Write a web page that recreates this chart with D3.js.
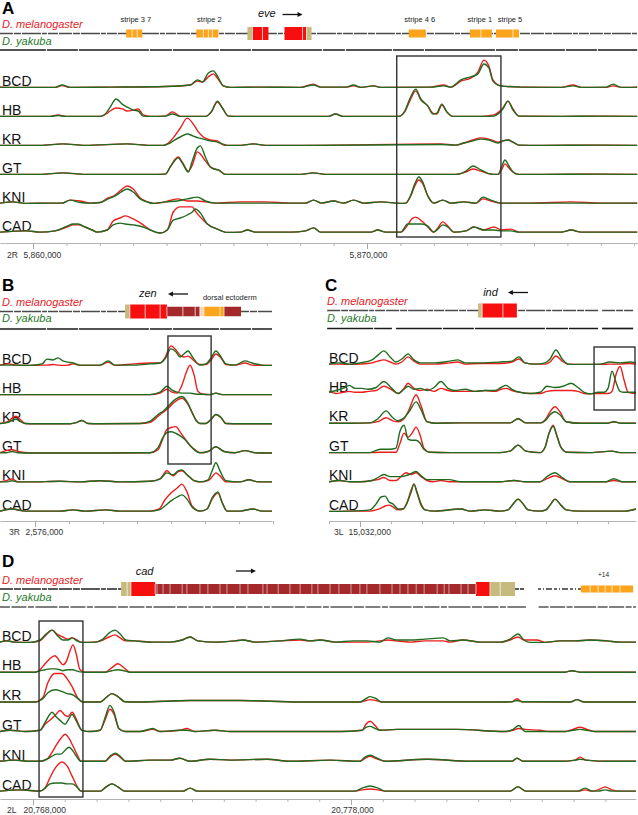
<!DOCTYPE html>
<html><head><meta charset="utf-8">
<script src="https://cdn.jsdelivr.net/npm/d3@7/dist/d3.min.js"></script>
<style>
body{margin:0;background:#fff}
svg{display:block}
text{font-family:"Liberation Sans",Arial,sans-serif}
</style>
</head><body>
<svg id="c" width="638" height="815"></svg>
<script>
// ================= DATA =================
const factors = ["BCD","HB","KR","GT","KNI","CAD"];
const speciesNames = ["D. melanogaster","D. yakuba"];

// ---------- Panel A : eve locus, chr2R (positions in kb from 5,860,000) ----------
const aChrom = "2R";
const aTickLabels = ["5,860,000","5,870,000"];
const aX = [
 [-0.99,-0.39,0.66,0.87,1.11,2.31,3.96,4.71,4.92,5.07,5.25,5.40,5.52,5.70,5.91,6.81,8.01,8.40,8.61,9.36,9.60,9.81,10.20,10.41,11.91,12.30,12.51,12.81,13.11,13.32,13.50,13.65,13.77,14.01,14.61,15.81,16.17,16.41,17.16,17.37,17.61,18.09],
 [-0.99,0.51,0.75,0.99,2.01,2.19,2.31,2.49,2.67,2.82,3.00,3.15,3.30,3.51,3.96,4.17,4.41,5.16,5.34,5.52,5.67,5.85,6.21,8.01,8.85,9.06,9.27,10.95,11.13,11.28,11.46,11.61,11.82,11.97,12.09,12.24,12.39,12.57,13.41,13.80,13.95,14.07,14.22,14.37,14.55,15.81,17.01,18.09],
 [-0.99,0.21,0.90,1.56,2.82,3.51,3.90,4.05,4.20,4.41,4.62,4.80,4.95,5.10,5.31,5.52,5.67,5.82,6.21,6.60,6.96,8.01,12.21,12.66,12.90,13.17,13.41,13.65,13.92,14.07,14.22,14.37,14.55,15.21,17.01,18.09],
 [-0.99,0.21,0.90,1.56,3.51,3.96,4.11,4.26,4.35,4.47,4.65,4.77,4.92,5.01,5.16,5.31,5.43,5.55,5.76,6.21,8.01,8.40,8.76,12.66,12.96,13.17,13.41,13.71,13.92,14.04,14.13,14.25,14.37,14.55,15.21,17.01,18.09],
 [-0.99,-0.60,-0.24,0.51,0.87,1.11,1.41,1.71,2.01,2.25,2.46,2.64,2.82,3.00,3.21,3.42,3.60,3.96,4.32,4.62,4.92,5.16,5.46,6.21,6.96,7.71,8.16,8.40,8.64,9.00,9.30,9.60,9.90,10.41,11.01,11.16,11.31,11.43,11.55,11.67,11.82,12.00,12.27,12.51,12.90,13.26,13.47,13.71,14.01,14.91,16.11,17.01,17.61,18.09],
 [-0.99,-0.18,0.21,0.66,1.02,1.20,1.35,1.56,1.77,1.92,2.22,2.40,2.61,2.76,3.00,3.30,3.51,3.81,4.02,4.20,4.41,4.62,4.77,4.86,5.01,5.22,5.52,5.82,6.21,6.42,6.66,7.71,8.16,8.40,8.61,9.51,10.11,10.32,10.56,11.01,11.22,11.34,11.46,11.64,11.82,12.00,12.12,12.27,12.42,12.60,12.96,13.20,13.50,13.80,14.04,14.31,14.55,15.21,15.81,16.11,16.41,18.09]
];
const aMel = [
 [0.3,0.2,0.2,0.8,0.2,0.3,0.5,1,2.3,2,3.7,4.7,3.3,0.7,0.2,0.3,0.2,1.3,0.3,0.3,0.7,0.2,0.7,0.2,0.3,1,0.3,2.3,3.3,5.3,9.3,7.3,2.7,0.7,0.3,0.2,1,0.2,0.2,0.7,0.2,0.3],
 [0.2,0.2,0.7,0.2,0.2,1,2,3,2.7,2,2.3,2.7,0.7,0.2,0.3,1.7,0.2,0.2,1.7,5,3,0.3,0.2,0.2,0.2,1,0.2,0.2,1.7,5.3,8.7,5.7,3.7,1.3,1,4,1.7,0.2,0.2,0.7,1.7,3,5.3,2.7,0.3,0.2,0.3,0.2],
 [0.2,0.2,0.7,0.2,0.7,0.2,0.2,1,2.7,6,9.3,7.3,4.7,3,2,1.7,0.5,0.2,0.2,0.7,0.2,0.2,0.7,0.3,1,2,2.7,2.3,1.3,1.7,2,1.3,0.3,0.2,0.3,0.2],
 [0.2,0.2,0.7,0.2,0.2,0.3,2.7,5.3,6,4.3,1.3,3.3,7.7,7,4.7,2.7,2,1.7,0.2,0.2,0.2,0.7,0.2,0.2,1,2,1.3,0.3,0.2,2,3.7,2.3,1,0.2,0.2,0.3,0.2],
 [0.3,0.7,0.2,0.3,0.3,1.3,1,0.3,0.5,2,3,4.7,6,5,2,0.7,0.2,0.7,1.7,1,1,0.7,0.3,0.7,0.7,0.3,0.3,1.3,0.3,1,0.3,1.3,0.3,0.7,0.2,0.3,2.7,6,8,6.7,2.7,0.3,1.3,0.3,0.7,0.3,1.7,1,0.3,0.3,0.7,0.3,0.3,0.3],
 [0.3,0.7,0.3,0.7,2,2.7,2.7,2,1,0.3,1,4,5,5.7,4.7,2.7,1,0,1,7,8.7,8.7,8.7,7.3,5.3,3,1.3,0.2,0.3,1,0.3,0.3,0.7,1.7,0.3,0.3,0.3,1,0.3,0.3,2.7,4.7,5.3,4,2,0.3,1.7,3.7,2.3,0.3,0.7,2,1,2,1,1.3,0.3,0.3,0.3,1,0.3,0.3]
];
const aYak = [
 [0.3,0.2,0.2,1,0.2,0.3,0.5,1,2.7,2,5,5.7,4,0.7,0.2,0.3,0.2,1,0.3,0.3,1,0.2,0.7,0.2,0.3,0.7,0.3,2.7,3.7,4.7,8,6.7,2.3,0.7,0.3,0.2,0.7,0.2,0.3,1.3,0.2,0.3],
 [0.2,0.2,0.5,0.2,0.2,1.3,3.3,6,4.3,3.3,2.3,2,0.3,0.2,0.3,1,0.2,0.2,1.7,5.3,3,0.3,0.2,0.2,0.2,1,0.2,0.2,2,6,9.3,6,3.7,1,1.3,4.3,1.7,0.2,0.2,0.3,1.3,2.7,5.3,2.3,0.3,0.2,0.3,0.2],
 [0.2,0.2,0.7,0.2,0.7,0.2,0.2,0.7,1.7,3,4,3.3,2.7,2.3,1.7,1.3,0.7,0.2,0.2,0.7,0.2,0.2,0.5,0.3,1,1.7,2.3,2,1,1.7,2,1.3,0.3,0.2,0.3,0.2],
 [0.2,0.2,0.7,0.2,0.2,0.3,2.7,5,5.7,4,1,4.7,9,9.7,6,2.7,2,1.7,0.2,0.2,0.2,0.7,0.2,0.2,1.3,3,1.7,0.3,0.2,3,5,3,1,0.2,0.2,0.3,0.2],
 [0.3,0.7,0.2,0.3,0.3,1.3,0.5,0.3,0.5,1.7,2.7,4,5,4,1.7,0.7,0.2,0.7,1,1.7,2.3,1,0.3,0.3,0.3,0.3,0.3,1.3,0.3,1,0.3,1.3,0.3,0.7,0.2,0.3,3,6.7,9,7.3,2.7,0.3,1.3,0.3,0.7,0.3,2.3,1.3,0.3,0.3,0.3,0.3,0.3,0.3],
 [0.3,0.7,0.3,0.7,2.3,3,3,2,1,0.3,1,2.7,3.3,3,2.7,2,1,0,1,4.3,5,6,7,8,6.7,3,1.3,0.2,0.3,1,0.3,0.3,0.7,1.7,0.3,0.3,0.3,1,0.3,0.3,3,3,3,3,2.3,0.3,1.3,2.7,2,0.3,0.7,2,1,1,0.7,0.7,0.3,0.3,0.3,1,0.3,0.3]
];
const aFeat = [
 [2.79,2.97,"crm"],[2.97,3.12,"crm"],[3.12,3.27,"crm"],
 [4.89,5.10,"crm"],[5.10,5.25,"crm"],[5.25,5.37,"crm"],[5.37,5.55,"crm"],
 [6.42,6.57,"utr"],[6.57,6.87,"cds"],[6.87,7.05,"cds"],
 [7.53,8.07,"cds"],[8.07,8.19,"cds"],[8.19,8.34,"utr"],
 [11.25,11.76,"crm"],
 [13.08,13.41,"crm"],[13.41,13.74,"crm"],
 [13.86,14.37,"crm"],[14.37,14.55,"crm"]
];
const aNotes = ["stripe 3 7","stripe 2","stripe 4 6","stripe 1","stripe 5"];
const aNotePos = [3.08,5.28,11.58,13.38,14.28];
const aGene = {name:"eve", pos:7.0, arrow:[7.47,8.07]};
const aBox = [10.89,14.01];

// ---------- Panel B : zen locus, chr3R (kb from 2,576,000) ----------
const bChrom = "3R";
const bTickLabels = ["2,576,000"];
const bX = [
 [-1.03,-0.79,-0.56,-0.15,0.21,0.35,0.53,0.68,0.82,0.97,1.12,1.32,1.91,2.15,2.35,2.94,3.38,3.68,3.82,4.00,4.15,4.26,4.38,4.50,4.65,4.85,5.03,5.18,5.32,5.47,5.62,5.88,6.18,6.38,6.68,6.97],
 [-1.03,1.91,3.38,3.68,3.88,4.03,4.18,4.32,4.44,4.56,4.68,4.79,4.94,5.15,5.32,5.50,6.03,6.97],
 [-1.03,-0.79,-0.68,-0.56,-0.44,-0.29,0,1.03,1.24,1.38,1.56,1.91,3.09,3.38,3.62,3.76,3.91,4.09,4.32,4.50,4.62,4.74,4.85,5.03,5.18,5.32,5.47,5.62,6.03,6.97],
 [-1.03,-0.85,-0.68,-0.50,-0.15,1.32,3.38,3.62,3.76,3.88,4.00,4.15,4.26,4.41,4.56,4.71,4.85,5.09,5.32,5.56,5.88,6.18,6.47,6.97],
 [-1.03,-0.85,-0.68,-0.50,-0.15,0.74,1.32,1.91,2.50,3.38,3.68,3.88,4.06,4.21,4.32,4.47,4.68,4.85,5.09,5.21,5.32,5.44,5.62,6.03,6.29,6.56,6.97],
 [-1.03,-0.68,-0.29,0.74,1.12,1.47,2.09,2.50,3.38,3.65,3.82,4.00,4.18,4.32,4.47,4.62,4.85,5.06,5.21,5.38,5.50,5.65,6.03,6.41,6.68,6.97]
];
const bMel = [
 [0.3,0.7,0.3,0.2,0.3,0.3,0.5,0.3,0.2,0.3,0.7,0.2,0.2,1.3,0.2,0.7,1,1,2.7,6.7,5.3,3.7,3,3.3,2,0.5,0.5,2,4,2.7,0.5,0.3,1,0.3,0.2,0.2],
 [0.2,0.2,0.2,0.7,2,1,0.7,3.3,7.3,10,6.7,1.3,0.3,0.2,0.7,0.2,0.2,0.2],
 [0.3,1,2,2.7,1.7,0.3,0.2,0.2,0.7,1.3,0.3,0.2,0.3,0.7,2.7,4,5.3,7.3,8.7,6.7,4,1.3,0.3,0.3,1.7,3.3,2.3,0.3,0.2,0.2],
 [0.3,1,1.3,0.7,0.2,0.2,0.3,1.3,5,8,8.7,9,7.3,5,2.7,1.3,0.3,0.7,2.3,0.7,0.3,1,0.3,0.2],
 [0.3,0.7,1.3,0.3,0.3,0.5,0.3,0.7,0.3,0.5,1.3,4,2.3,3.7,4,2.7,0.7,0.3,0.7,2,3.3,2.3,0.3,0.3,1,0.3,0.3],
 [0.3,1,0.3,0.3,0.7,0.3,0.7,0.3,0.3,1,4,6.3,8,9.3,6.7,2,0.3,1,4.3,6.3,3.3,0.3,0.3,1,0.3,0.3]
];
const bYak = [
 [0.3,0.3,0.3,0.2,0.7,2.3,2,2.7,1.7,1.3,1,0.3,0.3,1.7,0.3,0.3,0.7,1,2.3,5.7,4.7,3,4,5,2.7,0.3,0.7,2.7,5,3,0.7,0.3,1.7,1,0.3,0.2],
 [0.2,0.2,0.2,1,3,1.7,1,0.7,0.7,0.7,0.5,0.3,0.3,0.2,0.7,0.2,0.2,0.2],
 [0.3,0.7,1.3,1.7,1,0.3,0.2,0.2,0.7,1.3,0.3,0.2,0.3,1,3.3,4.3,6,8,9.3,7,4,1.3,0.3,0.3,1.7,3.3,2.3,0.3,0.2,0.2],
 [0.3,0.3,0.7,0.3,0.2,0.2,0.3,2,5.3,7,7.3,6.7,6,4.7,2.7,1,0.3,0.7,2.3,0.7,0.3,1,0.3,0.2],
 [0.3,0.3,0.7,0.3,0.3,0.5,0.3,0.7,0.3,0.5,1.3,3.3,2.7,4,4.3,2.7,0.7,0.3,1,4,6.7,4,0.7,0.3,1,0.3,0.3],
 [0.3,1,0.3,0.3,0.7,0.3,0.7,0.3,0.3,0.7,2,3.7,5,5.7,4.3,1.7,0.3,1,4.7,6.7,3.3,0.3,0.3,1,0.3,0.3]
];
const bFeat = [
 [2.65,2.79,"utr"],[2.79,3.24,"cds"],[3.24,3.68,"cds"],[3.68,3.88,"cds"],
 [3.88,4.35,"intr"],[4.35,4.71,"intr"],[4.71,4.85,"intr"],[4.85,4.97,"pale"],
 [4.97,5.44,"crm"],[5.44,5.56,"crm"],[5.56,6.06,"intr"]
];
const bNotes = ["dorsal ectoderm"];
const bNotePos = [5.73];
const bGene = {name:"zen", pos:3.32, arrow:[4.50,3.91]};
const bBox = [3.91,5.18];

// ---------- Panel C : ind locus, chr3L (kb from 15,032,000) ----------
const cChrom = "3L";
const cTickLabels = ["15,032,000"];
const cX = [
 [-1.00,-0.65,-0.32,0,0.39,0.58,0.77,0.97,1.16,1.35,1.55,1.74,1.94,2.42,2.90,3.16,3.39,3.87,4.52,4.90,5.13,5.32,5.65,5.97,6.13,6.32,6.52,6.71,7.10,7.74,8.06,8.39,8.71,8.90],
 [-1.00,-0.77,-0.55,-0.35,-0.16,0.06,0.26,0.52,0.77,1.00,1.23,1.42,1.55,1.74,1.94,2.16,2.39,2.61,2.84,3.06,3.39,3.71,4.03,4.35,4.55,4.71,4.90,5.16,5.48,5.81,6.03,6.29,6.55,6.81,7.03,7.23,7.42,7.68,7.87,8.00,8.13,8.26,8.39,8.52,8.65,8.90],
 [-1.00,-0.32,0.32,0.58,0.84,1.06,1.23,1.42,1.58,1.81,1.97,2.16,2.42,3.23,4.84,5.10,5.35,5.81,6.00,6.13,6.29,6.45,6.65,7.10,8.00,8.19,8.39,8.90],
 [-1.00,-0.32,0.32,0.65,0.97,1.16,1.29,1.42,1.55,1.68,1.81,1.94,2.06,2.26,2.90,4.52,4.84,5.10,5.35,5.81,5.97,6.10,6.23,6.35,6.48,6.68,7.42,8.13,8.39,8.90],
 [-1.00,-0.65,-0.32,0,0.39,0.58,0.77,0.97,1.16,1.32,1.48,1.65,1.81,1.97,2.16,2.35,2.61,2.87,3.23,3.87,4.52,4.97,5.32,5.81,6.03,6.29,6.52,6.77,7.42,7.94,8.19,8.45,8.90],
 [-1.00,-0.32,0.32,0.52,0.68,0.81,0.94,1.06,1.23,1.39,1.52,1.65,1.74,1.84,1.97,2.10,2.42,3.26,3.55,4.03,4.52,4.77,4.94,5.10,5.26,5.42,5.81,6.00,6.16,6.29,6.45,6.65,7.10,7.74,8.55,8.90]
];
const cMel = [
 [0.3,0.3,0.2,0.3,0.7,1.3,1.7,1,0.3,1,2.7,1.3,0.3,0.3,0.7,1,0.3,0.5,0.5,1,2,0.7,0.3,0.3,1,3,1.3,0.3,0.2,0.2,0.3,0.3,0.5,0.3],
 [1,0.3,0.7,1,0.7,0.7,1,1.3,2.7,1.7,0.3,2,3.7,2,1.3,1.7,1,2,1.3,1,1,1,1.3,1,1.7,2,1.3,0.7,0.3,0.3,1,1.3,1.3,1.3,1,0.3,0.2,0.3,0.3,0.3,1,6.7,9.3,4.7,0.7,0.3],
 [0.2,0.2,0.3,0.7,2,1,0.7,1.7,4.7,9.7,6,0.7,0.2,0.3,0.3,1.7,0.3,0.3,1.7,4,5.7,4,0.7,0.2,0.2,0.7,0.2,0.2],
 [0.2,0.2,0.2,0.3,0.3,0.3,3.3,6.7,5.3,6.7,8.7,6,1.7,0.3,0.2,0.2,0.7,2.7,0.7,0.2,2,6.7,9.3,6,2,0.3,0.2,0.7,0.2,0.2],
 [0.3,0.7,0.3,0.3,0.7,1,1.7,0.7,0.7,2,3.3,2.7,3.3,2,0.7,0.3,0.7,0.3,0.3,0.3,0.3,0.7,0.3,0.3,1.3,2.3,1.3,0.3,0.3,0.3,0.7,0.3,0.3],
 [0.2,0.3,0.3,0.7,1.3,2,2.3,1.7,0.7,1,3.3,7.3,9.3,6.7,2.7,0.7,0.3,1,0.3,0.7,0.3,0.7,2.7,4.3,2.7,0.7,0.3,0.7,2.7,4.3,2.7,0.7,0.3,0.3,0.3,1]
];
const cYak = [
 [0.3,0.7,0.3,0.7,1.7,3.3,4.7,2.7,1,2,3.7,1.7,0.7,0.7,1.3,1.7,0.7,0.7,1,1.3,2.7,0.7,0.3,0.7,2,5,2,0.3,0.2,0.3,1,0.7,1,0.7],
 [0.7,1.3,2,3,2,2,1.7,2.3,4.3,2.3,0.3,1.7,2.7,1.7,2,1.3,2.3,4.3,2,1.3,1.7,1,1.3,1.3,2.3,3,1.7,0.7,0.3,0.7,2.7,2.3,2.7,3.7,2.3,0.7,0.2,0.7,0.7,2,7.7,4,1,0.7,0.7,0.7],
 [0.2,0.2,0.3,1.7,4.3,2,1,2,4,7.3,4.7,0.7,0.2,0.3,0.3,1.7,0.3,0.3,1.3,3,4,3,0.7,0.2,0.2,0.7,0.2,0.2],
 [0.2,0.2,0.2,1.3,1.3,1.7,7.3,9.3,4.7,4.3,4.3,3.3,1.3,0.3,0.2,0.2,0.7,2.7,0.7,0.2,2,6.7,9,5.7,2,0.3,0.2,0.7,0.2,0.2],
 [0.3,0.7,0.3,0.3,0.7,1.7,2.7,2,2,2,2.3,3,3.7,2.3,1,1,1,1,0.3,0.3,0.3,0.7,0.3,0.3,2,3.3,1.7,0.3,0.3,0.3,1.3,0.3,0.3],
 [0.2,0.3,0.7,2.7,5,5.3,3.3,2.7,1,1,3,6.7,9.3,6.3,2.3,0.7,0.3,1,0.3,0.7,0.3,0.7,2.7,4.3,2.7,0.7,0.3,0.7,2.7,4.3,2.7,0.7,0.3,0.3,0.3,1]
];
const cFeat = [[3.81,3.94,"utr"],[3.94,4.61,"cds"],[4.61,5.06,"cds"]];
const cGene = {name:"ind", pos:4.21, arrow:[5.42,4.77]};
const cBox = [7.55,8.87];

// ---------- Panel D : cad locus, chr2L (kb from 20,768,000) ----------
const dChrom = "2L";
const dTickLabels = ["20,768,000","20,778,000"];
const dX = [
 [-1.04,-0.82,-0.57,-0.09,0.22,0.41,0.60,0.75,0.94,1.10,1.23,1.38,1.54,1.95,2.20,2.39,2.58,2.74,2.92,3.21,3.77,4.31,4.69,4.94,5.19,5.72,6.35,6.60,6.98,7.77,8.40,8.71,9.03,9.50,10.06,10.50,10.91,11.16,11.42,11.86,12.33,12.90,13.12,13.52,14.06,14.69,15.00,15.25,15.44,15.63,15.85,16.10,16.57,17.05,17.52,18.05,18.46,18.96],
 [-1.04,0.06,0.22,0.38,0.53,0.69,0.85,0.94,1.07,1.16,1.26,1.35,1.48,1.64,2.26,2.48,2.67,2.86,3.05,5.25,11.54,16.73,16.95,17.20,18.96],
 [-1.04,0.06,0.31,0.47,0.69,0.91,1.07,1.23,1.42,1.57,2.11,2.30,2.48,2.67,2.89,3.36,4.94,6.51,8.40,10.28,10.47,10.60,10.79,10.97,14.69,15.06,15.22,15.38,16.89,17.11,17.33,18.96],
 [-1.04,-0.72,-0.25,0.22,0.38,0.60,0.72,0.85,1.01,1.10,1.23,1.35,1.54,1.79,2.11,2.26,2.42,2.55,2.70,2.89,3.36,3.77,3.99,4.62,4.84,5.09,5.72,6.20,8.40,9.66,10.35,10.47,10.60,10.76,10.91,11.45,13.33,14.84,15.10,15.28,15.47,15.94,16.26,16.73,16.98,17.20,17.42,17.67,18.96],
 [-1.04,-0.57,-0.09,0.22,0.44,0.60,0.75,0.88,1.01,1.13,1.26,1.38,1.51,1.79,2.26,2.42,2.58,2.74,2.92,3.68,4.31,4.62,4.94,5.57,6.20,7.36,8.08,9.34,10.28,10.44,10.60,10.76,11.07,12.39,13.74,15.06,15.22,15.41,16.57,17.05,17.20,17.39,18.15,18.96],
 [-1.04,-0.41,0.22,0.38,0.53,0.72,0.91,1.07,1.23,1.38,1.51,1.79,2.11,2.30,2.48,2.67,2.89,3.68,4.72,4.94,5.16,7.14,10.13,10.35,10.60,10.85,11.07,13.11,15.00,15.25,15.50,17.14,17.36,17.58,17.77,17.99,18.21,18.46,18.96]
];
const dMel = [
 [0.3,0.7,0.3,0.2,0.7,2.7,4.3,3,2,1.3,1.7,1,0.2,0.3,1,2,2.7,1.7,0.7,0.7,0.3,0.3,1,2,0.7,0.3,0.7,1,0.3,0.7,1,0.7,1,0.3,0.3,0.3,0.7,1,0.7,0.3,0.7,0.7,0.3,1,0.3,0.3,1,2,1,1,1,0.2,0.7,0.7,1,0.7,0.3,0.3],
 [0.2,0.2,1,3,4.7,5.7,3.7,2.7,4.3,7.3,9.3,6.7,1,0.2,0.2,1.7,3,1.7,0.2,0.2,0.2,0.2,0.7,0.2,0.2],
 [0.2,0.2,1.7,6.7,9.7,9.7,8,5.3,1.3,0.2,0.2,1.7,3,2,0.3,0.2,0.7,0.7,0.2,0.2,0.7,1,0.7,0.2,0.2,0.3,1.3,0.3,0.2,1,0.2,0.2],
 [0.3,0.7,0.3,0.7,2.7,4.7,6,7.3,5.7,5.3,6.7,4.7,0.7,0.3,0.7,4,7.7,6,1.3,0.3,0.3,1,0.3,0.7,1.3,0.3,0.7,0.3,0.3,0.3,0.7,2.7,3.7,2.3,0.7,1,1,0.3,0.7,1.3,1,0.7,0.3,0.3,1,1.7,1,0.3,0.3],
 [0.3,0.7,0.3,0.3,1,3.3,6,8,9.3,8,5.3,2.7,0.3,0.3,0.3,1.7,2.7,1.7,0.3,0.7,0.7,1.3,0.3,1,0.7,1,0.3,0.7,0.3,1.3,2,1.3,0.3,1,0.3,0.3,1.3,0.3,0.3,0.7,1.7,0.7,0.3,0.3],
 [0.3,0.7,0.3,1.3,4.7,8.3,10,8.7,5.3,2,0.3,0.3,0.3,1.7,2.7,1.7,0.3,0.3,0.3,1.3,0.3,0.3,0.3,0.7,1,0.7,0.3,0.3,0.3,1.7,0.3,0.3,0.7,0.3,0.7,1.7,0.7,0.3,0.3]
];
const dYak = [
 [0.3,0.7,0.3,0.2,1,3,4.3,2.7,1,1,1.7,0.7,0.2,0.3,1.3,3.3,4.3,3,1,0.7,0.3,0.3,1,2,0.7,0.3,0.7,1,0.3,0.7,1.3,0.7,1,0.3,0.7,0.7,0.3,1.7,1,1,1.3,1.7,0.7,1,0.3,0.3,1.3,3,1,0.2,0.2,0.2,0.7,0.7,1,0.7,0.3,0.3],
 [0.2,0.2,0.7,1,1.3,1.3,1,0.7,1,1,1,0.7,0.3,0.2,0.2,0.7,1,0.7,0.2,0.2,0.2,0.2,0.7,0.2,0.2],
 [0.2,0.2,1.3,3.3,4.3,3.7,3,2.7,1.3,0.2,0.2,1.7,3,2,0.3,0.2,0.7,0.7,0.2,0.2,1.3,2,1.3,0.2,0.2,0.3,0.7,0.3,0.2,1,0.2,0.2],
 [0.3,0.7,0.3,0.7,3.3,6.7,5.3,4,2.7,4,6,4,0.7,0.3,0.7,4.7,9,6.7,1.3,0.3,0.3,1.3,0.3,0.7,0.7,0.3,0.7,0.3,0.3,0.3,0.7,1.7,2,1.3,0.7,1,1,0.3,1,2.3,0.3,0.3,0.3,0.3,0.7,1,0.7,0.3,0.3],
 [0.3,0.7,0.3,0.3,1,2,2.7,2.7,4,5,3.7,1.7,0.3,0.3,0.3,2,3,2,0.3,0.7,0.7,1.3,0.3,1,0.7,1,0.3,0.7,0.3,1.7,2.3,1.7,0.3,1,0.3,0.3,1.3,0.3,0.3,0.7,1,0.7,0.3,0.3],
 [0.3,0.7,0.3,1.3,2.7,3,3,2.7,2.7,1.7,0.3,0.3,0.3,1.7,2.7,1.7,0.3,0.3,0.3,1.3,0.3,0.3,0.3,1.3,2,1.3,0.3,0.3,0.3,1.7,0.3,0.3,1.3,0.3,0.3,0.7,0.3,0.3,0.3]
];
const dFeat = [
 [2.77,2.96,"utr"],[2.96,3.08,"utr"],[3.08,3.84,"cds"],[3.84,13.93,"intr"],
 [13.93,14.37,"cds"],[14.37,14.69,"utr"],[14.69,15.16,"utr"],
 [17.23,17.52,"crm"],[17.52,17.77,"crm"],[17.77,17.99,"crm"],[17.99,18.21,"crm"],[18.21,18.46,"crm"],[18.46,18.87,"crm"]
];
const dSeams = [3.90,4.09,4.31,4.69,4.84,5.25,5.50,5.88,6.10,6.51,6.76,7.23,7.36,7.71,8.08,8.40,8.77,8.96,9.34,9.62,10.00,10.28,10.50,10.91,11.29,11.54,11.79,12.05,12.30,12.71,12.93,13.08,13.46,13.68];
const dNotes = ["+14"];
const dNotePos = [17.94];
const dGene = {name:"cad", pos:3.51, arrow:[6.38,7.01]};
const dBox = [0.19,1.57];

// ================= LAYOUT / STYLE =================
const RED = "#ee1d1d", GREEN = "#1f6b1f";
const TXT_RED = "#e4211f", TXT_GREEN = "#27782a";
const featColor = {utr:"#c6ba7e", cds:"#f70f0f", intr:"#a4292b", crm:"#fba41c", pale:"#f3d6b4"};

const panels = [
 {letter:"A", lx:2, ly:13.5, tx:2, melTy:27.5, yakTy:44.5, melY:33.5, yakY:50,
  anchor:[0,10], anchorPx:[33,367], extent:[-0.99,18.09],
  xs:aX, mel:aMel, yak:aYak, feat:aFeat, fh:{utr:13,cds:13,crm:8,intr:10,pale:10},
  notes:aNotes, notePos:aNotePos, noteY:21.5, gene:aGene, geneY:17, arrowY:14.5,
  melSeg:[[-0.99,18.09]], yakSeg:[[-0.99,18.09]], yakColor:"#1a1a1a",
  base0:88, step:29, labX:2, box:aBox, boxY:[56,237],
  axisY:243, labY:258, chrom:aChrom, majors:[0,10], majorLabels:aTickLabels, ticks:d3.range(0,19)},
 {letter:"B", lx:2, ly:291, tx:2, melTy:305.5, yakTy:322, melY:311.5, yakY:329,
  anchor:[0,1], anchorPx:[35,69], extent:[-1.03,6.97],
  xs:bX, mel:bMel, yak:bYak, feat:bFeat, fh:{utr:14,cds:14,crm:9.5,intr:9.5,pale:9.5},
  notes:bNotes, notePos:bNotePos, noteY:300, gene:bGene, geneY:297, arrowY:294,
  melSeg:[[-1.03,6.97]], yakSeg:[[-1.03,6.97]], yakColor:"#1a1a1a",
  base0:366, step:29.2, labX:2, box:bBox, boxY:[336,464],
  axisY:521, labY:535, chrom:bChrom, majors:[0], majorLabels:bTickLabels, ticks:d3.range(0,8)},
 {letter:"C", lx:325, ly:291, tx:327, melTy:304.5, yakTy:322, melY:310.5, yakY:328.5,
  anchor:[0,1], anchorPx:[360,391], extent:[-1.0,8.9],
  xs:cX, mel:cMel, yak:cYak, feat:cFeat, fh:{utr:14,cds:14,crm:9,intr:9,pale:9},
  notes:[], notePos:[], noteY:0, gene:cGene, geneY:296, arrowY:292.5,
  melSeg:[[-1.06,7.68],[7.81,8.81]], yakSeg:[[-1.06,1.03],[1.16,7.68],[7.81,8.81]], yakColor:"#1a1a1a",
  base0:365, step:29.4, labX:329, box:cBox, boxY:[347,410],
  axisY:521, labY:535, chrom:cChrom, majors:[0], majorLabels:cTickLabels, ticks:d3.range(-1,10)},
 {letter:"D", lx:2, ly:567, tx:2, melTy:583.5, yakTy:600.5, melY:589, yakY:607,
  anchor:[0,10], anchorPx:[33,351], extent:[-1.04,18.96],
  xs:dX, mel:dMel, yak:dYak, feat:dFeat, fh:{utr:14,cds:14,crm:7,intr:10,pale:10}, seams:dSeams,
  notes:dNotes, notePos:dNotePos, noteY:577, noteSize:6.5, gene:dGene, geneY:574.5, arrowY:571,
  melSeg:[[-1.04,15.44]], melDot:[[15.88,17.23]], yakSeg:[[-1.04,15.5],[15.9,18.96]], yakColor:"#555",
  base0:643, step:29.8, labX:2, box:dBox, boxY:[621,797],
  axisY:799, labY:813, chrom:dChrom, majors:[0,10], majorLabels:dTickLabels, ticks:d3.range(0,19)}
];

// ================= DRAW =================
const svg = d3.select("#c");
const yv = d3.scaleLinear().domain([0,10]).range([0,30]);

function hline(g, x, seg, y, color, w, dash){
  g.selectAll(null).data(seg).enter().append("line")
   .attr("x1", d=>x(d[0])).attr("x2", d=>x(d[1])).attr("y1", y).attr("y2", y)
   .attr("stroke", color).attr("stroke-width", w).attr("stroke-dasharray", dash);
}

function arrow(g, x, a, y){
  const x0 = x(a[0]), x1 = x(a[1]), dir = Math.sign(x1-x0);
  g.append("line").attr("x1",x0).attr("x2",x1-dir*3).attr("y1",y).attr("y2",y)
   .attr("stroke","#111").attr("stroke-width",1.3);
  g.append("path").attr("d",`M${x1},${y}L${x1-dir*5},${y-2.5}L${x1-dir*5},${y+2.5}Z`).attr("fill","#111");
}

panels.forEach(p => {
  const xa = d3.scaleLinear().domain(p.anchor).range(p.anchorPx);
  const x = xa.copy().domain(p.extent).range(p.extent.map(xa));
  const g = svg.append("g");

  g.append("text").attr("x",p.lx).attr("y",p.ly).attr("font-size",17).attr("font-weight","bold").attr("fill","#000").text(p.letter);
  g.append("text").attr("x",p.tx).attr("y",p.melTy).attr("font-size",11).attr("font-style","italic").attr("fill",TXT_RED).text(speciesNames[0]);
  g.append("text").attr("x",p.tx).attr("y",p.yakTy).attr("font-size",11).attr("font-style","italic").attr("fill",TXT_GREEN).text(speciesNames[1]);

  // alignment lines
  hline(g, x, p.melSeg, p.melY, p.letter==="D" ? "#222" : "#4a4a4a", 1.6, "13,1,7,1,19,1,5,1,10,1");
  if (p.melDot) hline(g, x, p.melDot, p.melY, "#333", 1.4, "3,2,1,2,6,2");
  hline(g, x, p.yakSeg, p.yakY, p.yakColor, 1.7, p.letter==="D" ? "10,1.5,15,1.5,6,1.5,22,1.5" : "46,1,31,1,70,1,22,1");

  // annotation features
  p.feat.forEach((f,i) => {
    const h = p.fh[f[2]];
    g.append("rect").attr("x",x(f[0])).attr("width",Math.max(0.5,x(f[1])-x(f[0])))
     .attr("y",p.melY-h/2).attr("height",h).attr("fill",featColor[f[2]]);
  });
  p.feat.forEach((f,i) => {
    if (i>0 && Math.abs(p.feat[i-1][1]-f[0])<1e-9){
      const h = Math.min(p.fh[f[2]], p.fh[p.feat[i-1][2]]);
      g.append("line").attr("x1",x(f[0])).attr("x2",x(f[0])).attr("y1",p.melY-h/2).attr("y2",p.melY+h/2)
       .attr("stroke","#fff").attr("stroke-opacity",0.75).attr("stroke-width",0.9);
    }
  });
  if (p.seams){
    const h = p.fh.intr;
    g.selectAll(null).data(p.seams).enter().append("line")
     .attr("x1",d=>x(d)).attr("x2",d=>x(d)).attr("y1",p.melY-h/2).attr("y2",p.melY+h/2)
     .attr("stroke","#fff").attr("stroke-opacity",0.6).attr("stroke-width",0.9);
  }
  // notes above features
  p.notes.forEach((t,i) => {
    g.append("text").attr("x",x(p.notePos[i])).attr("y",p.noteY).attr("text-anchor","middle")
     .attr("font-size",p.noteSize||7.5).attr("fill","#222").text(t);
  });
  // gene name + arrow
  g.append("text").attr("x",x(p.gene.pos)).attr("y",p.geneY).attr("text-anchor","middle")
   .attr("font-size",11).attr("font-style","italic").attr("fill","#111").text(p.gene.name);
  arrow(g, x, p.gene.arrow, p.arrowY);

  // tracks
  factors.forEach((f,i) => {
    const base = p.base0 + i*p.step;
    g.append("text").attr("x",p.labX).attr("y",base-2.5).attr("font-size",14).attr("fill","#111").text(f);
  });
  factors.forEach((f,i) => {
    const base = p.base0 + i*p.step;
    const line = d3.line().x(d=>x(d[0])).y(d=>base - yv(d[1])).curve(d3.curveMonotoneX);
    g.append("path").datum(d3.zip(p.xs[i], p.mel[i])).attr("d",line)
     .attr("fill","none").attr("stroke",RED).attr("stroke-width",1.4).attr("stroke-linejoin","round");
    g.append("path").datum(d3.zip(p.xs[i], p.yak[i])).attr("d",line)
     .attr("fill","none").attr("stroke",GREEN).attr("stroke-width",1.4).attr("stroke-linejoin","round");
  });

  // highlight box
  g.append("rect").attr("x",x(p.box[0])).attr("width",x(p.box[1])-x(p.box[0]))
   .attr("y",p.boxY[0]).attr("height",p.boxY[1]-p.boxY[0])
   .attr("fill","none").attr("stroke","#333").attr("stroke-width",1.4);

  // axes
  const ticks = p.ticks.filter(t => t >= p.extent[0]-0.2 && t <= p.extent[1]+0.2);
  const minor = g.append("g").attr("transform",`translate(0,${p.axisY})`)
    .call(d3.axisBottom(x).tickValues(ticks).tickSize(3).tickSizeOuter(0).tickFormat(""));
  minor.select(".domain").attr("stroke","#b4b4b4");
  minor.selectAll(".tick line").attr("stroke","#b4b4b4");
  const major = g.append("g").attr("transform",`translate(0,${p.axisY})`)
    .call(d3.axisBottom(x).tickValues(p.majors).tickSize(6).tickSizeOuter(0).tickFormat((d,i)=>p.majorLabels[i]));
  major.select(".domain").remove();
  major.selectAll(".tick line").attr("stroke","#a8a8a8");
  major.selectAll(".tick text")
    .attr("y", p.labY - p.axisY).attr("dy",0)
    .attr("font-family","Liberation Sans, Arial, sans-serif").attr("font-size",8.5).attr("fill","#333")
    .attr("text-anchor",(d,i)=> i===0 ? "start" : "middle")
    .attr("x",(d,i)=> i===0 ? (p.letter==="C" ? -12 : -10) : 1);
  g.append("text").attr("x",x(p.majors[0]) - 26).attr("y",p.labY)
   .attr("font-size",8.5).attr("fill","#333").text(p.chrom);
});
</script>
</body></html>
